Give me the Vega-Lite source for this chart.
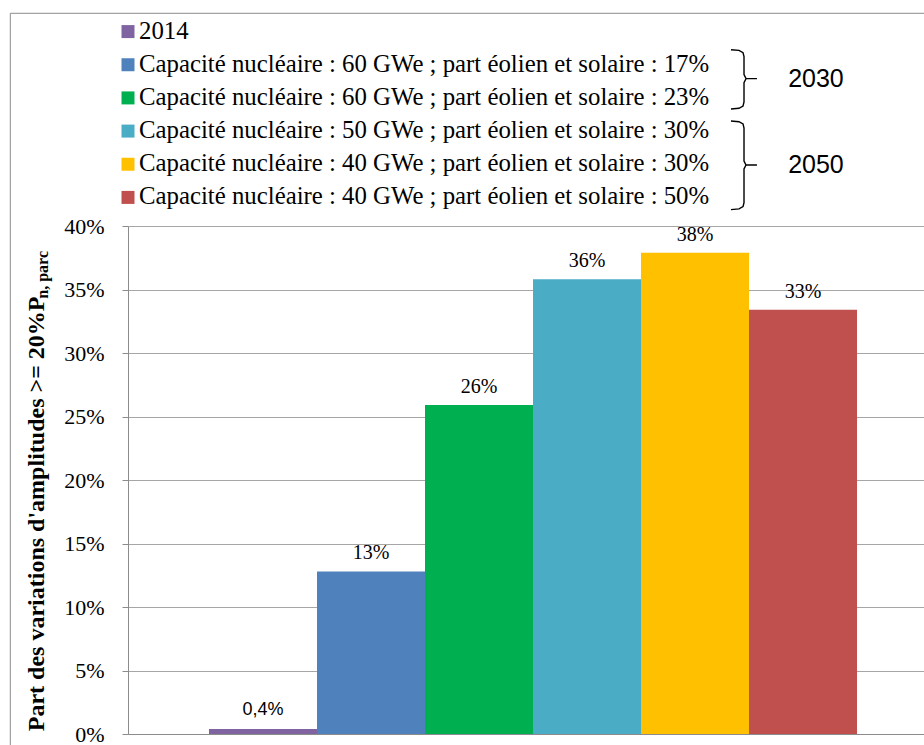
{
  "$schema": "https://vega.github.io/schema/vega-lite/v6.json",
  "autosize": {"type": "pad"},
  "padding": {"left": 9, "top": 12, "right": 0, "bottom": 0},
  "background": "white",
  "spacing": 12,
  "bounds": "flush",
  "config": {"view": {"stroke": null}, "font": "Liberation Serif"},
  "datasets": {
    "bars": [
      {"ord": 0, "serie": "2014", "value": 0.004, "label": "0,4%"},
      {"ord": 1, "serie": "Capacité nucléaire : 60 GWe ; part éolien et solaire : 17%", "value": 0.128, "label": "13%"},
      {"ord": 2, "serie": "Capacité nucléaire : 60 GWe ; part éolien et solaire : 23%", "value": 0.259, "label": "26%"},
      {"ord": 3, "serie": "Capacité nucléaire : 50 GWe ; part éolien et solaire : 30%", "value": 0.358, "label": "36%"},
      {"ord": 4, "serie": "Capacité nucléaire : 40 GWe ; part éolien et solaire : 30%", "value": 0.379, "label": "38%"},
      {"ord": 5, "serie": "Capacité nucléaire : 40 GWe ; part éolien et solaire : 50%", "value": 0.334, "label": "33%"}
    ],
    "groups": [
      {"grp": "2030", "gx": 81.5, "row": 1.418},
      {"grp": "2050", "gx": 81.5, "row": 4.023}
    ],
    "frame": [{"side": "frame"}],
    "brackets": [
      {"grp": "2030", "pt": 1, "bx": 74.44, "row": 0.546},
      {"grp": "2030", "pt": 2, "bx": 75.43, "row": 0.567},
      {"grp": "2030", "pt": 3, "bx": 75.93, "row": 0.637},
      {"grp": "2030", "pt": 4, "bx": 76.05, "row": 0.757},
      {"grp": "2030", "pt": 5, "bx": 76.05, "row": 1.297},
      {"grp": "2030", "pt": 6, "bx": 76.30, "row": 1.418},
      {"grp": "2030", "pt": 7, "bx": 77.65, "row": 1.418},
      {"grp": "2030", "pt": 8, "bx": 76.30, "row": 1.418},
      {"grp": "2030", "pt": 9, "bx": 76.05, "row": 1.538},
      {"grp": "2030", "pt": 10, "bx": 76.05, "row": 2.123},
      {"grp": "2030", "pt": 11, "bx": 75.93, "row": 2.244},
      {"grp": "2030", "pt": 12, "bx": 75.43, "row": 2.313},
      {"grp": "2030", "pt": 13, "bx": 74.44, "row": 2.334},
      {"grp": "2050", "pt": 1, "bx": 74.44, "row": 2.696},
      {"grp": "2050", "pt": 2, "bx": 75.43, "row": 2.717},
      {"grp": "2050", "pt": 3, "bx": 75.93, "row": 2.786},
      {"grp": "2050", "pt": 4, "bx": 76.05, "row": 2.907},
      {"grp": "2050", "pt": 5, "bx": 76.05, "row": 3.902},
      {"grp": "2050", "pt": 6, "bx": 76.30, "row": 4.023},
      {"grp": "2050", "pt": 7, "bx": 77.65, "row": 4.023},
      {"grp": "2050", "pt": 8, "bx": 76.30, "row": 4.023},
      {"grp": "2050", "pt": 9, "bx": 76.05, "row": 4.143},
      {"grp": "2050", "pt": 10, "bx": 76.05, "row": 5.156},
      {"grp": "2050", "pt": 11, "bx": 75.93, "row": 5.277},
      {"grp": "2050", "pt": 12, "bx": 75.43, "row": 5.346},
      {"grp": "2050", "pt": 13, "bx": 74.44, "row": 5.367}
    ]
  },
  "vconcat": [
    {
      "width": 810,
      "height": 199,
      "layer": [
        {
          "data": {"name": "frame"},
          "mark": {"type": "rule", "color": "#8c8c8c", "strokeWidth": 1},
          "encoding": {
            "x": {"datum": -14.53, "type": "quantitative", "scale": {"domain": [0, 100], "nice": false, "zero": false}, "axis": null},
            "y": {"datum": -0.551, "type": "quantitative", "scale": {"domain": [-0.5, 5.5], "nice": false, "zero": false, "reverse": true}, "axis": null},
            "y2": {"datum": 23}
          }
        },
        {
          "data": {"name": "frame"},
          "mark": {"type": "rule", "color": "#8c8c8c", "strokeWidth": 1},
          "encoding": {
            "x": {"datum": -14.53, "type": "quantitative"},
            "x2": {"datum": 110},
            "y": {"datum": -0.551, "type": "quantitative"}
          }
        },
        {
          "data": {"name": "bars"},
          "mark": {"type": "point", "shape": "square", "filled": true, "size": 169, "opacity": 1},
          "encoding": {
            "x": {"datum": 0, "type": "quantitative"},
            "y": {"field": "ord", "type": "quantitative"},
            "color": {
              "field": "serie", "type": "nominal", "legend": null,
              "scale": {
                "domain": [
                  "2014",
                  "Capacité nucléaire : 60 GWe ; part éolien et solaire : 17%",
                  "Capacité nucléaire : 60 GWe ; part éolien et solaire : 23%",
                  "Capacité nucléaire : 50 GWe ; part éolien et solaire : 30%",
                  "Capacité nucléaire : 40 GWe ; part éolien et solaire : 30%",
                  "Capacité nucléaire : 40 GWe ; part éolien et solaire : 50%"
                ],
                "range": ["#8064A2", "#4F81BD", "#00B050", "#4BACC6", "#FFC000", "#C0504D"]
              }
            }
          }
        },
        {
          "data": {"name": "bars"},
          "mark": {"type": "text", "align": "left", "baseline": "middle", "dx": 11, "font": "Liberation Serif", "fontSize": 24.8, "color": "#000"},
          "encoding": {
            "x": {"datum": 0, "type": "quantitative"},
            "y": {"field": "ord", "type": "quantitative"},
            "text": {"field": "serie"}
          }
        },
        {
          "data": {"name": "brackets"},
          "mark": {"type": "line", "color": "#000", "strokeWidth": 1.4, "interpolate": "linear"},
          "encoding": {
            "x": {"field": "bx", "type": "quantitative"},
            "y": {"field": "row", "type": "quantitative"},
            "detail": {"field": "grp"},
            "order": {"field": "pt", "type": "quantitative"}
          }
        },
        {
          "data": {"name": "groups"},
          "mark": {"type": "text", "align": "left", "baseline": "middle", "font": "Liberation Sans", "fontSize": 25, "color": "#000"},
          "encoding": {
            "x": {"field": "gx", "type": "quantitative"},
            "y": {"field": "row", "type": "quantitative"},
            "text": {"field": "grp"}
          }
        }
      ]
    },
    {
      "width": 810,
      "height": 508,
      "data": {"name": "bars"},
      "title": {"text": "n, parc", "orient": "left", "anchor": "end", "frame": "group", "offset": -40, "dx": -25, "baseline": "alphabetic", "font": "Liberation Serif", "fontSize": 16, "fontWeight": "bold", "color": "#000"},
      "encoding": {
        "x": {
          "field": "serie", "type": "nominal",
          "sort": [
            "2014",
            "Capacité nucléaire : 60 GWe ; part éolien et solaire : 17%",
            "Capacité nucléaire : 60 GWe ; part éolien et solaire : 23%",
            "Capacité nucléaire : 50 GWe ; part éolien et solaire : 30%",
            "Capacité nucléaire : 40 GWe ; part éolien et solaire : 30%",
            "Capacité nucléaire : 40 GWe ; part éolien et solaire : 50%"
          ],
          "scale": {"paddingInner": 0, "paddingOuter": 0.75},
          "axis": {"labels": false, "ticks": false, "title": null, "domainColor": "#8c8c8c", "grid": false}
        },
        "y": {
          "field": "value", "type": "quantitative",
          "scale": {"domain": [0, 0.4], "nice": false},
          "axis": {
            "values": [0, 0.05, 0.1, 0.15, 0.2, 0.25, 0.3, 0.35, 0.4],
            "format": ".0%",
            "labelFont": "Liberation Serif", "labelFontSize": 22, "labelColor": "#000", "labelPadding": 18,
            "tickColor": "#8c8c8c", "tickSize": 6, "domainColor": "#8c8c8c",
            "gridColor": "#a6a6a6", "gridWidth": 1,
            "title": "Part des variations d'amplitudes >= 20%P",
            "titleFont": "Liberation Serif", "titleFontSize": 24, "titleFontWeight": "bold", "titleColor": "#000",
            "titleAngle": -90, "titleAlign": "right", "titleBaseline": "alphabetic",
            "titleX": -85, "titleY": 70
          }
        }
      },
      "layer": [
        {
          "mark": {"type": "bar"},
          "encoding": {
            "color": {
              "field": "serie", "type": "nominal", "legend": null,
              "scale": {
                "domain": [
                  "2014",
                  "Capacité nucléaire : 60 GWe ; part éolien et solaire : 17%",
                  "Capacité nucléaire : 60 GWe ; part éolien et solaire : 23%",
                  "Capacité nucléaire : 50 GWe ; part éolien et solaire : 30%",
                  "Capacité nucléaire : 40 GWe ; part éolien et solaire : 30%",
                  "Capacité nucléaire : 40 GWe ; part éolien et solaire : 50%"
                ],
                "range": ["#8064A2", "#4F81BD", "#00B050", "#4BACC6", "#FFC000", "#C0504D"]
              }
            }
          }
        },
        {
          "transform": [{"filter": "datum.ord > 0"}],
          "mark": {"type": "text", "baseline": "alphabetic", "dy": -12, "font": "Liberation Serif", "fontSize": 20, "color": "#000"},
          "encoding": {"text": {"field": "label"}}
        },
        {
          "transform": [{"filter": "datum.ord == 0"}],
          "mark": {"type": "text", "baseline": "alphabetic", "dy": -14, "font": "Liberation Sans", "fontSize": 18, "color": "#000"},
          "encoding": {"text": {"field": "label"}}
        }
      ]
    }
  ]
}
